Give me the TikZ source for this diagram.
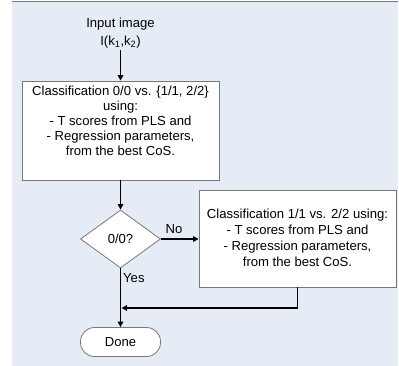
\documentclass[tikz,border=0pt]{standalone}
\usepackage{fontspec}
\setmainfont{Liberation Sans}
\usetikzlibrary{shapes.geometric,arrows.meta}
\definecolor{bgblue}{RGB}{229,236,246}
\definecolor{edgegray}{RGB}{120,120,120}
\tikzset{
  boxnode/.style={draw=edgegray,line width=0.8pt,fill=white,inner sep=0pt},
  txt/.style={align=center,font=\fontsize{13.1}{15}\selectfont,inner sep=0pt},
  flow/.style={line width=1.7pt,-{Triangle[length=5.5pt,width=5.5pt]}},
  lbl/.style={font=\fontsize{13.1}{15}\selectfont,inner sep=0pt},
}
\begin{document}
\begin{tikzpicture}[x=1pt,y=-1pt]
\useasboundingbox (0,0) rectangle (399,366);
\fill[bgblue] (12,2) rectangle (398,366);
\draw[edgegray,line width=1pt] (12,2) -- (398,2);
% input
\node[txt,font=\fontsize{13.1}{17.5}\selectfont] (inp) at (120.5,33) {Input image\\I(k\textsubscript{1},k\textsubscript{2})};
\coordinate (inpb) at (120.5,50);
% box 1
\node[boxnode,minimum width=197pt,minimum height=99pt] (b1) at (120.5,130.5) {};
\node[txt] (t1) at (120.5,121) {Classification 0/0 vs. \{1/1, 2/2\}\\using:\\- T scores from PLS and\\- Regression parameters,\\from the best CoS.};
% diamond
\node[boxnode,diamond,minimum width=80pt,minimum height=58pt,aspect=1.38] (d) at (120.5,239) {};
\node[txt] (dt) at (120.5,239) {0/0?};
% box 2
\node[boxnode,minimum width=197pt,minimum height=97pt] (b2) at (297.5,238.5) {};
\node[txt,font=\fontsize{13.1}{15.8}\selectfont] (t2) at (297.5,238) {Classification 1/1 vs. 2/2 using:\\- T scores from PLS and\\- Regression parameters,\\from the best CoS.};
% done
\node[boxnode,minimum width=80pt,minimum height=29pt,rounded corners=14pt] (done) at (120.5,342) {};
\node[txt] (donet) at (120.5,342) {Done};
% labels
\node[lbl] (no) at (174,229) {No};
\node[lbl,anchor=west] (yes) at (123,278) {Yes};
% connectors
\draw[flow] (inpb) -- (b1.north);
\draw[flow] (b1.south) -- (d.north);
\draw[flow] (d.east) -- (b2.west |- d.east);
\draw[flow] (d.south) -- (done.north);
\coordinate (m) at (121.5,308);
\draw[flow] (b2.south) -- (b2.south |- m) -- (m);
\end{tikzpicture}
\end{document}
